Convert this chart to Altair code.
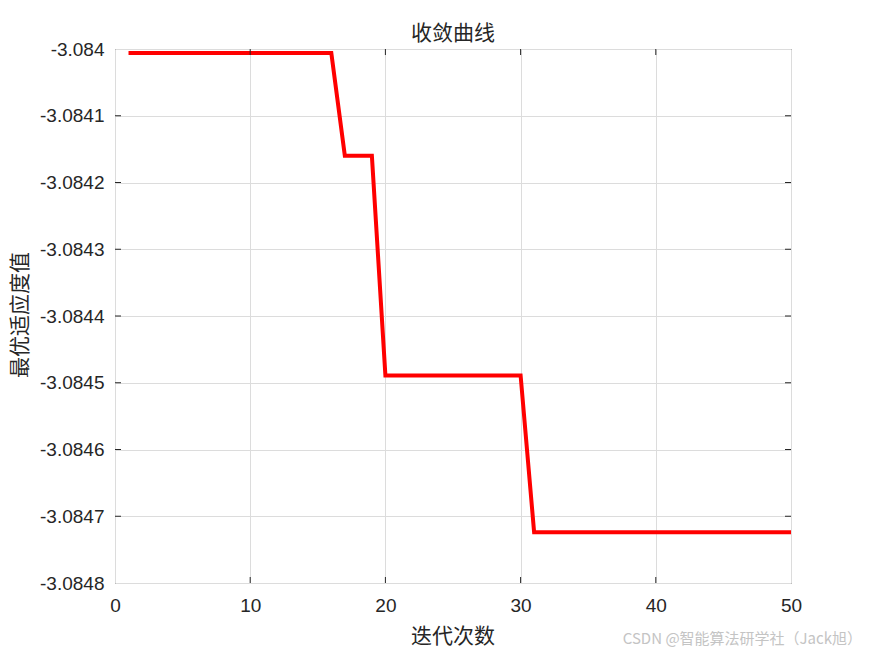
import altair as alt
import pandas as pd

# ---- data ----
iterations = list(range(1, 51))
best_fitness = ([-3.084006] * 16 + [-3.084160] * 3 + [-3.084489] * 11 + [-3.084724] * 20)
x_ticks = [0, 10, 20, 30, 40, 50]
y_ticks = [-3.0848, -3.0847, -3.0846, -3.0845, -3.0844, -3.0843, -3.0842, -3.0841, -3.0840]
title_text = "收敛曲线"
x_title = "迭代次数"
y_title = "最优适应度值"
watermark = "CSDN @智能算法研学社（Jack旭）"

W, H = 676, 534
df = pd.DataFrame({"iter": iterations, "val": best_fitness})
xt = pd.DataFrame({"iter": x_ticks[1:-1]})
yt = pd.DataFrame({"val": y_ticks[1:-1]})

xs = alt.Scale(domain=[0, 50], nice=False, zero=False)
ys = alt.Scale(domain=[-3.0848, -3.0840], nice=False, zero=False)

tick_font = "Liberation Sans"
cjk_font = "Noto Sans CJK SC"
ink = "#262626"

x_axis = alt.Axis(
    values=x_ticks, title=None, ticks=False, domain=False, grid=True,
    gridColor="#dcdcdc", gridWidth=1, labelFont=tick_font, labelFontSize=19,
    labelColor=ink, labelPadding=13, labelFlush=False)
y_axis = alt.Axis(
    values=y_ticks, title=None, ticks=False, domain=False, grid=True,
    gridColor="#dcdcdc", gridWidth=1, labelFont=tick_font, labelFontSize=19,
    labelColor=ink, labelPadding=11,
    labelExpr="'-' + format(abs(datum.value), '.4~f')")

line = alt.Chart(df).mark_line(color="#ff0000", strokeWidth=4, strokeJoin="miter").encode(
    x=alt.X("iter:Q", scale=xs, axis=x_axis),
    y=alt.Y("val:Q", scale=ys, axis=y_axis),
)

tick_style = dict(color=ink, strokeWidth=1)
xb = alt.Chart(xt).mark_rule(**tick_style).encode(
    x=alt.X("iter:Q", scale=xs, axis=x_axis), y=alt.value(H), y2=alt.value(H - 6))
xtop = alt.Chart(xt).mark_rule(**tick_style).encode(
    x=alt.X("iter:Q", scale=xs, axis=x_axis), y=alt.value(0), y2=alt.value(6))
yl = alt.Chart(yt).mark_rule(**tick_style).encode(
    y=alt.Y("val:Q", scale=ys, axis=y_axis), x=alt.value(0), x2=alt.value(6))
yr = alt.Chart(yt).mark_rule(**tick_style).encode(
    y=alt.Y("val:Q", scale=ys, axis=y_axis), x=alt.value(W), x2=alt.value(W - 6))

def label(text, x, y, size, color=ink, angle=0, align="center", font=cjk_font):
    return alt.Chart(pd.DataFrame({"t": [text]})).mark_text(
        font=font, fontSize=size, color=color, angle=angle, align=align,
        baseline="middle").encode(x=alt.value(x), y=alt.value(y), text="t:N")

t1 = label(title_text, W / 2, -15, 21)
t2 = label(x_title, W / 2, 588, 21)
t3 = label(y_title, -94, 266, 21, angle=270)
t4 = label(watermark, 747, 590, 15, color="#c4c4c4", align="right")

chart = alt.layer(line, xb, xtop, yl, yr, t1, t2, t3, t4).properties(
    width=W, height=H,
    autosize=alt.AutoSizeParams(type="none"),
    padding={"left": 107, "top": 41, "right": 76, "bottom": 70},
    background="white",
).configure_view(stroke=ink, strokeWidth=1)

chart.save("out.html", embed_options={"renderer": "svg", "actions": False})
